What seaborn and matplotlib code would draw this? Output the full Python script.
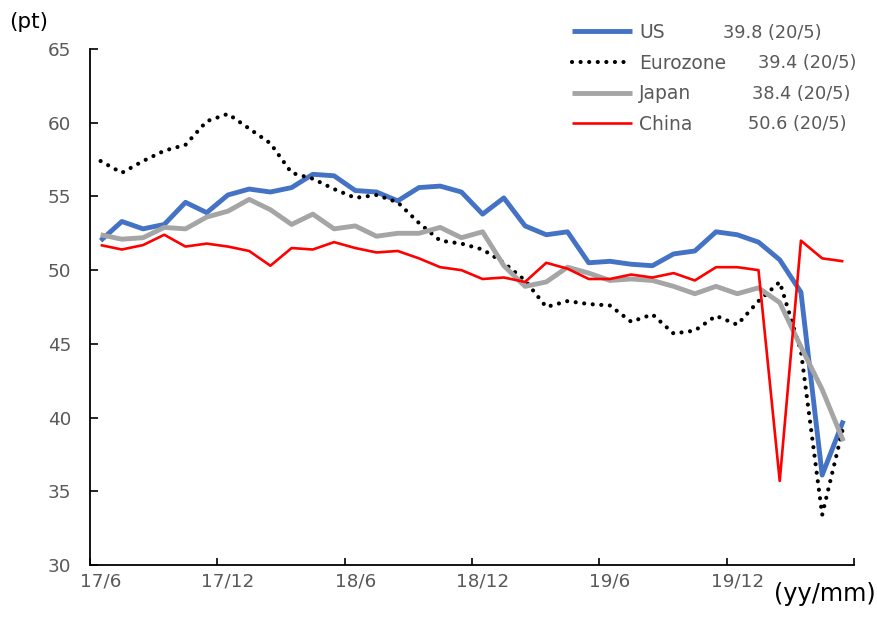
import matplotlib
matplotlib.use("Agg")
import matplotlib.pyplot as plt
import seaborn as sns
import pandas as pd

# Monthly manufacturing PMI, 2017/6 - 2020/5
months = [
    "17/6", "17/7", "17/8", "17/9", "17/10", "17/11", "17/12",
    "18/1", "18/2", "18/3", "18/4", "18/5", "18/6", "18/7", "18/8", "18/9", "18/10", "18/11", "18/12",
    "19/1", "19/2", "19/3", "19/4", "19/5", "19/6", "19/7", "19/8", "19/9", "19/10", "19/11", "19/12",
    "20/1", "20/2", "20/3", "20/4", "20/5",
]
us = [52.0, 53.3, 52.8, 53.1, 54.6, 53.9, 55.1, 55.5, 55.3, 55.6, 56.5, 56.4,
      55.4, 55.3, 54.7, 55.6, 55.7, 55.3, 53.8, 54.9, 53.0, 52.4, 52.6, 50.5,
      50.6, 50.4, 50.3, 51.1, 51.3, 52.6, 52.4, 51.9, 50.7, 48.5, 36.1, 39.8]
eurozone = [57.4, 56.6, 57.4, 58.1, 58.5, 60.1, 60.6, 59.6, 58.6, 56.6, 56.2, 55.5,
            54.9, 55.1, 54.6, 53.2, 52.0, 51.8, 51.4, 50.5, 49.3, 47.5, 47.9, 47.7,
            47.6, 46.5, 47.0, 45.7, 45.9, 46.9, 46.3, 47.9, 49.2, 44.5, 33.4, 39.4]
japan = [52.4, 52.1, 52.2, 52.9, 52.8, 53.6, 54.0, 54.8, 54.1, 53.1, 53.8, 52.8,
         53.0, 52.3, 52.5, 52.5, 52.9, 52.2, 52.6, 50.3, 48.9, 49.2, 50.2, 49.8,
         49.3, 49.4, 49.3, 48.9, 48.4, 48.9, 48.4, 48.8, 47.8, 44.8, 41.9, 38.4]
china = [51.7, 51.4, 51.7, 52.4, 51.6, 51.8, 51.6, 51.3, 50.3, 51.5, 51.4, 51.9,
         51.5, 51.2, 51.3, 50.8, 50.2, 50.0, 49.4, 49.5, 49.2, 50.5, 50.1, 49.4,
         49.4, 49.7, 49.5, 49.8, 49.3, 50.2, 50.2, 50.0, 35.7, 52.0, 50.8, 50.6]

series_names = ["US", "Eurozone", "Japan", "China"]
latest_labels = ["39.8 (20/5)", "39.4 (20/5)", "38.4 (20/5)", "50.6 (20/5)"]
tick_labels = ["17/6", "17/12", "18/6", "18/12", "19/6", "19/12"]
y_ticks = [30, 35, 40, 45, 50, 55, 60, 65]

sns.set_theme(style="white")
plt.rcParams["font.family"] = ["DejaVu Sans", "Noto Sans CJK JP"]

W, H = 877, 617
df = pd.DataFrame({"month": months, "US": us, "Eurozone": eurozone,
                   "Japan": japan, "China": china})
long = df.melt(id_vars="month", var_name="region", value_name="pmi")
long["pos"] = long["month"].map({m: i for i, m in enumerate(months)})

fig = plt.figure(figsize=(W / 100, H / 100), dpi=100)
ax = fig.add_axes([90 / W, 1 - 565 / H, (854 - 90) / W, (565 - 49) / H])

styles = {
    "US": dict(color="#4472C4", linewidth=3.5, solid_capstyle="butt"),
    "Eurozone": dict(color="black", linewidth=3.0, linestyle=(0, (0.01, 2.05)),
                     dash_capstyle="round"),
    "Japan": dict(color="#A5A5A5", linewidth=3.5, solid_capstyle="butt"),
    "China": dict(color="#FF0000", linewidth=1.9, solid_capstyle="butt"),
}

for name in series_names:
    sub = long[long["region"] == name]
    sns.lineplot(data=sub, x="pos", y="pmi", ax=ax, label=name, **styles[name])

ax.set_xlim(-0.5, len(months) - 0.5)
ax.set_ylim(30, 65)
ax.set_yticks(y_ticks)
ax.set_xticks([months.index(t) for t in tick_labels])
ax.set_xticklabels(tick_labels)
ax.set_xticks([i - 0.5 for i in range(0, len(months) + 1, 6)], minor=True)
ax.tick_params(axis="x", which="major", length=0, pad=5.5, labelsize=13.2, labelcolor="#595959")
ax.tick_params(axis="x", which="minor", direction="in", length=5, width=1.2, color="black", bottom=True)
ax.tick_params(axis="y", direction="in", length=6, width=1.2, color="black", left=True,
               pad=13.5, labelsize=13.2, labelcolor="#595959")
ax.set_xlabel("")
ax.set_ylabel("")
for side in ["top", "right"]:
    ax.spines[side].set_visible(False)
for side in ["left", "bottom"]:
    ax.spines[side].set_color("black")
    ax.spines[side].set_linewidth(1.3)

leg = ax.legend(loc="upper left", bbox_to_anchor=(572 / W, 1 - 23 / H),
                bbox_transform=fig.transFigure, frameon=False, fontsize=13.5,
                handlelength=3.2, handletextpad=0.37, labelspacing=0.62,
                borderpad=0, borderaxespad=0)
for t in leg.get_texts():
    t.set_color("#595959")

# latest readings, set in a column to the right of each legend entry
value_x = [723, 758, 752, 748]
fig.canvas.draw()
inv = fig.transFigure.inverted()
for t, val, vx in zip(leg.get_texts(), latest_labels, value_x):
    bb = t.get_window_extent()
    yc = inv.transform((0, (bb.y0 + bb.y1) / 2))[1]
    fig.text(vx / W, yc, val, fontsize=12.8, color="#595959", ha="left", va="center")

fig.text(9 / W, 1 - 22 / H, "(pt)", fontsize=15.5, va="center", ha="left", color="black")
fig.text(876 / W, 1 - 594 / H, "(yy/mm)", fontsize=17.3, va="center", ha="right", color="black")

fig.savefig("out.png", dpi=100)
